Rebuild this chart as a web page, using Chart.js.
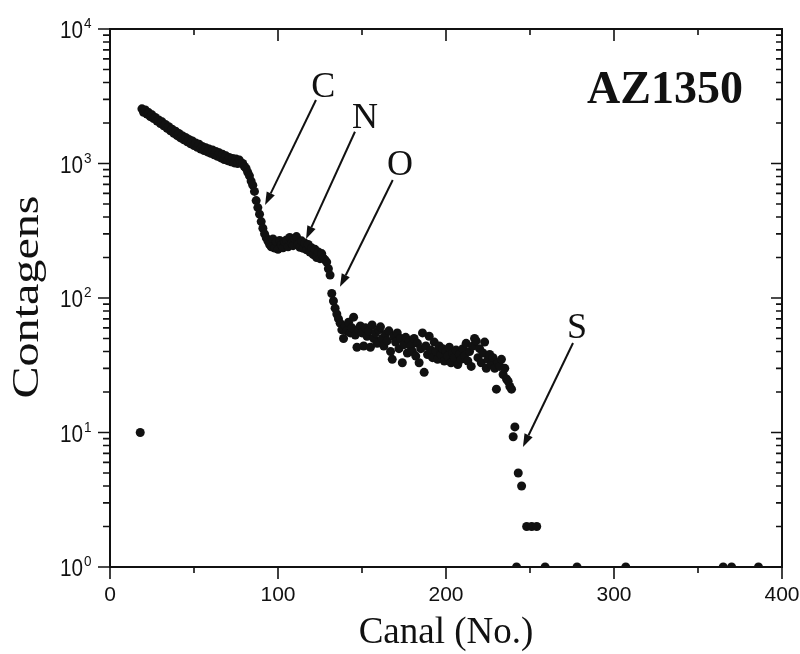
<!DOCTYPE html>
<html>
<head>
<meta charset="utf-8">
<script src="https://cdn.jsdelivr.net/npm/chart.js"></script>
<style>
  html, body { margin: 0; padding: 0; background: #fff; }
</style>
</head>
<body>
<canvas id="rbsChart" width="800" height="654"></canvas>

<script>
    // RBS spectrum of the AZ1350 film: counts per channel
    const channels = [
        18,
        19, 20, 21, 22, 23, 24, 25, 26, 27, 28,
        29, 30, 31, 32, 33, 34, 35, 36, 37, 38,
        39, 40, 41, 42, 43, 44, 45, 46, 47, 48,
        49, 50, 51, 52, 53, 54, 55, 56, 57, 58,
        59, 60, 61, 62, 63, 64, 65, 66, 67, 68,
        69, 70, 71, 72, 73, 74, 75, 76, 77, 78,
        79, 80, 81, 82, 83, 84, 85, 86, 87, 88,
        89, 90, 91, 92, 93, 94, 95, 96, 97, 98,
        99, 100, 101, 102, 103, 104, 105, 106, 107, 108,
        109, 110, 111, 112, 113, 114, 115, 116, 117, 118,
        119, 120, 121, 122, 123, 124, 125, 126, 127, 128,
        129, 130, 131, 132, 133, 134, 135, 136, 137, 138,
        139, 140, 141, 142, 143, 144, 145, 146, 147, 148,
        149, 150, 151, 152, 153, 154, 155, 156, 157, 158,
        159, 160, 161, 162, 163, 164, 165, 166, 167, 168,
        169, 170, 171, 172, 173, 174, 175, 176, 177, 178,
        179, 180, 181, 182, 183, 184, 185, 186, 187, 188,
        189, 190, 191, 192, 193, 194, 195, 196, 197, 198,
        199, 200, 201, 202, 203, 204, 205, 206, 207, 208,
        209, 210, 211, 212, 213, 214, 215, 216, 217, 218,
        219, 220, 221, 222, 223, 224, 225, 226, 227, 228,
        229, 230, 231, 232, 233, 234, 235, 236, 237, 238, 239,
        240, 241, 242, 243, 245, 248, 251, 254,
        259, 278, 307, 365, 370, 386
    ];
    const counts = [
        10,
        2550, 2400, 2500, 2330, 2390, 2230, 2300, 2160, 2200, 2070,
        2110, 1980, 2040, 1910, 1950, 1830, 1880, 1750, 1800, 1680,
        1740, 1610, 1670, 1550, 1610, 1500, 1560, 1450, 1510, 1400,
        1470, 1360, 1420, 1320, 1390, 1280, 1340, 1250, 1310, 1220,
        1280, 1190, 1260, 1160, 1230, 1130, 1200, 1100, 1170, 1070,
        1140, 1050, 1110, 1030, 1090, 1010, 1080, 1000, 1060, 1010,
        1000, 950, 920, 860, 810, 740, 690, 620, 530, 470,
        420, 370, 330, 300, 280, 265, 250, 240, 275, 235,
        262, 230, 268, 248, 236, 262, 270, 240, 282, 255,
        245, 276, 286, 250, 238, 266, 234, 256, 228, 250,
        220, 236, 210, 230, 200, 220, 196, 214, 198, 192,
        185, 165, 148, 108, 95, 84, 76, 70, 65, 58,
        50, 62, 57, 66, 55, 60, 72, 53, 43, 58,
        62, 55, 44, 60, 52, 57, 43, 63, 50, 55,
        46, 58, 61, 50, 44, 54, 48, 57, 40, 35,
        52, 47, 55, 42, 50, 33, 45, 51, 39, 48,
        44, 40, 50, 37, 46, 33, 42, 55, 28, 44,
        38, 52, 41, 36, 47, 40, 35, 44, 38, 42,
        34, 40, 37, 43, 33, 39, 36, 41, 32, 38,
        35, 42, 37, 46, 34, 40, 31, 44, 50, 48,
        36, 42, 33, 39, 47, 30, 35, 38, 32, 36,
        30, 21, 33, 31, 35, 27, 30, 25, 24, 22, 21,
        9.3, 11, 1, 5, 4, 2, 2, 2,
        1, 1, 1, 1, 1, 1
    ];

    const xTickValues = [0, 100, 200, 300, 400];
    const yDecades = [1, 10, 100, 1000, 10000];

    // element edges: label at [channel, count] (baseline), arrow from -> to
    const edges = [
        { name: 'C', label: [127, 3120], from: [122.6, 2966], to: [92.3, 491] },
        { name: 'N', label: [151.8, 1837], from: [145.8, 1723], to: [116.7, 275] },
        { name: 'O', label: [172.6, 821], from: [168.3, 754], to: [136.9, 121] },
        { name: 'S', label: [278, 50.4], from: [275.6, 46.3], to: [245.8, 7.8] }
    ];
    const sampleName = 'AZ1350';
    const samplePos = [376.8, 2818];

    const ink = '#111';
    const sansFont = '"Liberation Sans", Arial, sans-serif';
    const serifFont = '"Liberation Serif", "Times New Roman", serif';

    function drawText(ctx, text, x, y, font, align, sx) {
        ctx.save();
        ctx.translate(x, y);
        ctx.scale(sx || 1, 1);
        ctx.font = font;
        ctx.textAlign = align;
        ctx.textBaseline = 'alphabetic';
        ctx.fillText(text, 0, 0);
        ctx.restore();
    }

    function drawArrow(ctx, x1, y1, x2, y2) {
        const ang = Math.atan2(y2 - y1, x2 - x1);
        const head = 13, half = 4.5;
        const bx = x2 - head * Math.cos(ang), by = y2 - head * Math.sin(ang);
        ctx.beginPath();
        ctx.moveTo(x1, y1);
        ctx.lineTo(bx, by);
        ctx.stroke();
        ctx.beginPath();
        ctx.moveTo(x2, y2);
        ctx.lineTo(bx + half * Math.sin(ang), by - half * Math.cos(ang));
        ctx.lineTo(bx - half * Math.sin(ang), by + half * Math.cos(ang));
        ctx.closePath();
        ctx.fill();
    }

    // frame, ticks, labels and annotations (axes are drawn by hand, Origin style)
    const framePlugin = {
        id: 'frame',
        afterDatasetsDraw(chart) {
            const { ctx, chartArea: a, scales: { x, y } } = chart;
            ctx.save();
            ctx.strokeStyle = ink;
            ctx.fillStyle = ink;
            ctx.lineWidth = 2;
            ctx.strokeRect(a.left, a.top, a.right - a.left, a.bottom - a.top);

            // x ticks every 50 channels, long ones at the hundreds
            ctx.lineWidth = 1.6;
            for (let v = 0; v <= 400; v += 50) {
                const px = x.getPixelForValue(v);
                const major = v % 100 === 0;
                const len = major ? 12 : 6;
                ctx.beginPath();
                ctx.moveTo(px, a.bottom); ctx.lineTo(px, a.bottom + len);
                ctx.moveTo(px, a.top); ctx.lineTo(px, a.top + len);
                ctx.stroke();
            }
            // y ticks: decades plus 2..9 minors
            for (let d = 0; d < yDecades.length; d++) {
                const dec = yDecades[d];
                const py = y.getPixelForValue(dec);
                ctx.beginPath();
                ctx.moveTo(a.left - 12, py); ctx.lineTo(a.left, py);
                ctx.moveTo(a.right - 11, py); ctx.lineTo(a.right, py);
                ctx.stroke();
                if (d === yDecades.length - 1) break;
                for (let m = 2; m <= 9; m++) {
                    const pm = y.getPixelForValue(dec * m);
                    ctx.beginPath();
                    ctx.moveTo(a.left - 7, pm); ctx.lineTo(a.left, pm);
                    ctx.moveTo(a.right - 6, pm); ctx.lineTo(a.right, pm);
                    ctx.stroke();
                }
            }

            // tick labels
            xTickValues.forEach(v => {
                drawText(ctx, String(v), x.getPixelForValue(v), a.bottom + 34, '21px ' + sansFont, 'center');
            });
            yDecades.forEach((v, i) => {
                const py = y.getPixelForValue(v);
                drawText(ctx, '10', a.left - 27, py + 9, '23px ' + sansFont, 'right', 0.9);
                drawText(ctx, String(i), a.left - 26, py - 1, '15px ' + sansFont, 'left', 0.9);
            });

            // axis titles
            drawText(ctx, 'Canal (No.)', (a.left + a.right) / 2, 643, '37px ' + serifFont, 'center');
            ctx.save();
            ctx.translate(38, 297);
            ctx.rotate(-Math.PI / 2);
            drawText(ctx, 'Contagens', 0, 0, '37px ' + serifFont, 'center', 1.3);
            ctx.restore();

            // element edges
            ctx.lineWidth = 2;
            edges.forEach(e => {
                drawText(ctx, e.name, x.getPixelForValue(e.label[0]), y.getPixelForValue(e.label[1]),
                    '36px ' + serifFont, 'center');
                drawArrow(ctx,
                    x.getPixelForValue(e.from[0]), y.getPixelForValue(e.from[1]),
                    x.getPixelForValue(e.to[0]), y.getPixelForValue(e.to[1]));
            });
            drawText(ctx, sampleName, x.getPixelForValue(samplePos[0]), y.getPixelForValue(samplePos[1]),
                'bold 46px ' + serifFont, 'right');
            ctx.restore();
        }
    };

    const points = channels.map((c, i) => ({ x: c, y: counts[i] }));

    new Chart(document.getElementById('rbsChart'), {
        type: 'scatter',
        data: {
            datasets: [{
                label: 'AZ1350',
                data: points,
                pointRadius: 4.5,
                pointHoverRadius: 4.5,
                pointBackgroundColor: ink,
                pointBorderWidth: 0,
                clip: 0
            }]
        },
        options: {
            responsive: false,
            animation: false,
            devicePixelRatio: 1,
            layout: { padding: { left: 110, right: 18, top: 29, bottom: 87 } },
            plugins: { legend: { display: false }, tooltip: { enabled: false } },
            scales: {
                x: { type: 'linear', min: 0, max: 400, display: false },
                y: { type: 'logarithmic', min: 1, max: 10000, display: false }
            }
        },
        plugins: [framePlugin]
    });
</script>
</body>
</html>
